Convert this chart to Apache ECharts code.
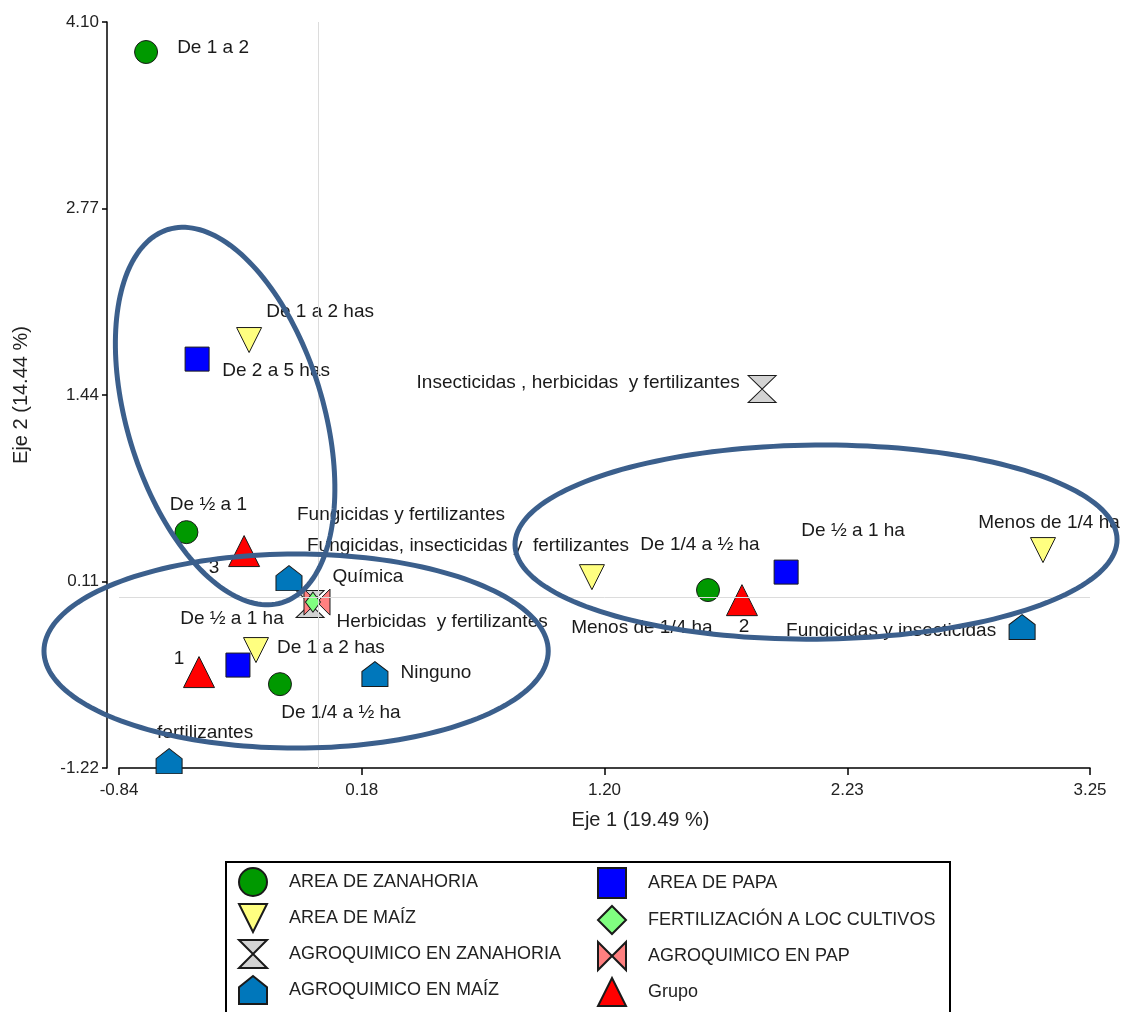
<!DOCTYPE html>
<html>
<head>
<meta charset="utf-8">
<script src="https://cdn.jsdelivr.net/npm/echarts@6/dist/echarts.min.js"></script>
<style>
  html, body { margin: 0; padding: 0; background: #fff; }
  #chart { width: 1129px; height: 1012px; }
</style>
</head>
<body>
<div id="chart"></div>
<script>
// axis ticks
var xTickLabels = ['-0.84', '0.18', '1.20', '2.23', '3.25'];
var yTickLabels = ['-1.22', '0.11', '1.44', '2.77', '4.10'];
var xMin = -0.84, xMax = 3.25, xStep = 1.0225;
var yMin = -1.22, yMax = 4.10, yStep = 1.33;

// AREA DE ZANAHORIA
var zanahoria = [[-0.726, 3.886], [-0.556, 0.462], [-0.162, -0.622], [1.641, 0.049]];
var zanahoriaLab = ['De 1 a 2', 'De ½ a 1', 'De 1/4 a ½ ha', 'De 1/4 a ½ ha'];
// AREA DE PAPA
var papa = [[-0.511, 1.696], [-0.339, -0.486], [1.970, 0.177]];
var papaLab = ['De 2 a 5 has', 'De ½ a 1 ha', 'De ½ a 1 ha'];
// AREA DE MAÍZ
var maiz = [[-0.292, 1.832], [-0.263, -0.379], [1.152, 0.141], [3.052, 0.334]];
var maizLab = ['De 1 a 2 has', 'De 1 a 2 has', 'Menos de 1/4 ha', 'Menos de 1/4 ha'];
// AGROQUIMICO EN ZANAHORIA
var agroZan = [[1.869, 1.482], [-0.035, -0.051]];
var agroZanLab = ['Insecticidas , herbicidas  y fertilizantes', 'Herbicidas  y fertilizantes'];
// AGROQUIMICO EN PAP
var agroPap = [[-0.006, -0.037]];
var agroPapLab = ['Fungicidas, insecticidas y  fertilizantes'];
// FERTILIZACIÓN A LOC CULTIVOS
var fert = [[-0.023, -0.037]];
var fertLab = ['Química'];
// AGROQUIMICO EN MAÍZ
var agroMaiz = [[-0.124, 0.134], [0.238, -0.550], [-0.629, -1.171], [2.964, -0.215]];
var agroMaizLab = ['Fungicidas y fertilizantes', 'Ninguno', 'fertilizantes', 'Fungicidas y insecticidas'];
// Grupo
var grupo = [[-0.503, -0.536], [-0.313, 0.327], [1.784, -0.023]];
var grupoLab = ['1', '3', '2'];

// label offsets (pixels, from marker centre to label centre)
var zanahoriaOff = [[67, -4], [22, -27], [61, 29], [-8, -45]];
var papaOff = [[79, 12], [-6, -46], [67, -41]];
var maizOff = [[71, -28], [75, -2], [50, 51], [6, -27]];
var agroZanOff = [[-184, -6], [132, 18]];
var agroPapOff = [[151, -56]];
var fertOff = [[55, -25]];
var agroMaizOff = [[112, -63], [61, -1], [36, -28], [-131, 4]];
var grupoOff = [[-20, -13], [-30, 17], [2, 27]];

// annotation ellipses: centre x, centre y, radius x, radius y (data units), rotation (deg)
var ellipses = [
  [-0.393, 1.290, 0.413, 1.391, 17],
  [-0.094, -0.386, 1.062, 0.692, 0],
  [2.096, 0.391, 1.268, 0.692, 0.5]
];

var FONT = 'Liberation Sans, Arial, sans-serif';

var SYM = {
  circle: 'circle',
  square: 'rect',
  down: 'path://M0,0 L10,0 L5,10 Z',
  diamond: 'path://M5,0 L10,5 L5,10 L0,5 Z',
  hourglass: 'path://M0,0 L10,0 L5,5 L10,10 L0,10 L5,5 Z',
  bowtie: 'path://M0,0 L5,5 L10,0 L10,10 L5,5 L0,10 Z',
  house: 'path://M5,0 L10,4 L10,10 L0,10 L0,4 Z',
  up: 'path://M5,0 L10,10 L0,10 Z'
};

function pts(vals, labs, offs) {
  return vals.map(function (v, i) {
    return {
      name: labs[i],
      value: v,
      label: { offset: offs[i] }
    };
  });
}

function scatter(name, vals, labs, offs, symbol, size, color) {
  return {
    name: name,
    type: 'scatter',
    symbol: symbol,
    symbolSize: size,
    itemStyle: { color: color, borderColor: '#1a1a1a', borderWidth: 1, opacity: 1 },
    label: {
      show: true,
      position: 'inside',
      align: 'center',
      verticalAlign: 'middle',
      formatter: '{b}',
      color: '#1a1a1a',
      fontFamily: FONT,
      fontSize: 19
    },
    emphasis: { disabled: true },
    data: pts(vals, labs, offs),
    z: 3
  };
}

var chart = echarts.init(document.getElementById('chart'), null, { renderer: 'canvas' });

var legendBase = {
  orient: 'vertical', top: 867, height: 150, padding: 0,
  itemWidth: 28, itemHeight: 30, itemGap: 6,
  textStyle: { fontFamily: FONT, fontSize: 18, color: '#222', padding: [0, 0, 0, 17] }
};

var option = {
  animation: false,
  backgroundColor: '#fff',
  grid: { left: 119, right: 39, top: 22, bottom: 244, outerBoundsMode: 'none', containLabel: false },
  xAxis: {
    type: 'value',
    min: xMin, max: xMax, interval: xStep,
    name: 'Eje 1 (19.49 %)',
    nameLocation: 'middle',
    nameGap: 42,
    nameTextStyle: { fontFamily: FONT, fontSize: 20, color: '#222', padding: [0, 0, 0, 72] },
    axisLine: { onZero: false, lineStyle: { color: '#000', width: 1.5 } },
    axisTick: { length: 7, lineStyle: { color: '#000', width: 1.5 } },
    axisLabel: {
      margin: 14, fontFamily: FONT, fontSize: 17, color: '#222',
      formatter: function (v) { return xTickLabels[Math.round((v - xMin) / xStep)]; }
    },
    splitLine: { show: false }
  },
  yAxis: {
    type: 'value',
    min: yMin, max: yMax, interval: yStep,
    offset: 12,
    name: 'Eje 2 (14.44 %)',
    nameLocation: 'middle',
    nameGap: 76,
    nameRotate: 90,
    nameTextStyle: { fontFamily: FONT, fontSize: 20, color: '#222' },
    axisLine: { onZero: false, lineStyle: { color: '#000', width: 1.5 } },
    axisTick: { length: 5, lineStyle: { color: '#000', width: 1.5 } },
    axisLabel: {
      margin: 8, fontFamily: FONT, fontSize: 17, color: '#222',
      formatter: function (v) { return yTickLabels[Math.round((v - yMin) / yStep)]; }
    },
    splitLine: { show: false }
  },
  legend: [
    Object.assign({}, legendBase, {
      left: 238,
      data: ['AREA DE ZANAHORIA', 'AREA DE MAÍZ', 'AGROQUIMICO EN ZANAHORIA', 'AGROQUIMICO EN MAÍZ']
    }),
    Object.assign({}, legendBase, {
      left: 597,
      data: ['AREA DE PAPA', 'FERTILIZACIÓN A LOC CULTIVOS', 'AGROQUIMICO EN PAP', 'Grupo']
    })
  ],
  graphic: [{
    type: 'rect',
    shape: { x: 226, y: 862, width: 724, height: 170 },
    style: { fill: 'none', stroke: '#000', lineWidth: 2 },
    silent: true
  }],
  series: [
    {
      name: 'ref',
      type: 'scatter',
      data: [],
      silent: true,
      z: 1,
      markLine: {
        silent: true,
        symbol: ['none', 'none'],
        label: { show: false },
        lineStyle: { color: '#dcdcdc', width: 1, type: 'solid' },
        data: [{ xAxis: 0 }, { yAxis: 0 }]
      }
    },
    scatter('AREA DE ZANAHORIA', zanahoria, zanahoriaLab, zanahoriaOff, SYM.circle, 23, '#009900'),
    scatter('AREA DE PAPA', papa, papaLab, papaOff, SYM.square, 24, '#0000ff'),
    scatter('AREA DE MAÍZ', maiz, maizLab, maizOff, SYM.down, [25, 25], '#ffff80'),
    scatter('AGROQUIMICO EN ZANAHORIA', agroZan, agroZanLab, agroZanOff, SYM.hourglass, [28, 27], '#d3d3d3'),
    scatter('AGROQUIMICO EN PAP', agroPap, agroPapLab, agroPapOff, SYM.bowtie, [26, 26], '#ff8080'),
    scatter('FERTILIZACIÓN A LOC CULTIVOS', fert, fertLab, fertOff, SYM.diamond, [15, 20], '#80ff80'),
    scatter('AGROQUIMICO EN MAÍZ', agroMaiz, agroMaizLab, agroMaizOff, SYM.house, [26, 25], '#0077bb'),
    scatter('Grupo', grupo, grupoLab, grupoOff, SYM.up, [31, 31], '#ff0000'),
    {
      name: 'elipses',
      type: 'custom',
      z: 10,
      silent: true,
      clip: false,
      data: ellipses,
      renderItem: function (params, api) {
        var c = api.coord([api.value(0), api.value(1)]);
        var s = api.size([api.value(2), api.value(3)]);
        var rot = api.value(4) * Math.PI / 180;
        var points = [];
        for (var k = 0; k < 180; k++) {
          var t = k / 180 * Math.PI * 2;
          var ex = s[0] * Math.cos(t), ey = s[1] * Math.sin(t);
          points.push([
            c[0] + ex * Math.cos(rot) + ey * Math.sin(rot),
            c[1] - ex * Math.sin(rot) + ey * Math.cos(rot)
          ]);
        }
        return {
          type: 'polygon',
          shape: { points: points },
          style: { fill: null, stroke: '#3b5f8c', lineWidth: 5 }
        };
      }
    }
  ]
};

chart.setOption(option);
</script>
</body>
</html>
